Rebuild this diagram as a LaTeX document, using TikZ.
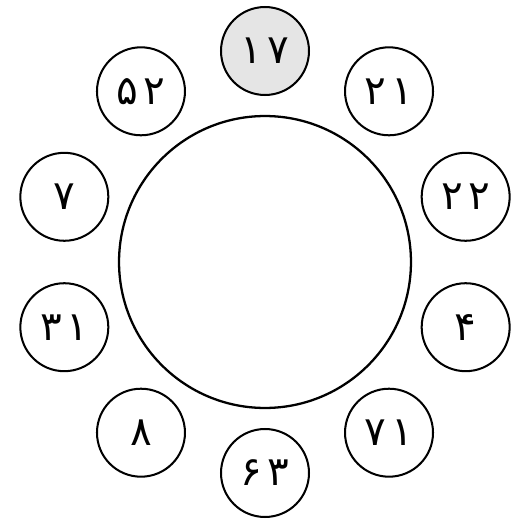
\documentclass[tikz,border=0pt]{standalone}
\usepackage{fontspec}
\newfontfamily\persianfont[Script=Arabic,LetterSpace=12]{DejaVu Sans}
\usetikzlibrary{positioning,calc}

\begin{document}
\begin{tikzpicture}[
  x=.02cm,y=.02cm,
  font=\persianfont\fontsize{23}{26}\selectfont,
  seat/.style={circle,draw=black,line width=1.15pt,minimum size=1.76cm,inner sep=0pt},
  firstseat/.style={seat,fill=black!10},
  roundtable/.style={circle,draw=black,line width=1.3pt,minimum size=5.84cm,inner sep=0pt}
]
\useasboundingbox (0,0) rectangle (525,529);
\node[roundtable] (table) at (265,267) {};
% seats go clockwise from the top one
\foreach \num/\kind [count=\i from 0] in {۱۷/firstseat,۲۱/seat,۲۲/seat,۴/seat,۷۱/seat,۶۳/seat,۸/seat,۳۱/seat,۷/seat,۵۲/seat} {
  \node[\kind] (seat\i) at ($(table)+({90-36*\i}:211)$) {\num};
}
\end{tikzpicture}
\end{document}
